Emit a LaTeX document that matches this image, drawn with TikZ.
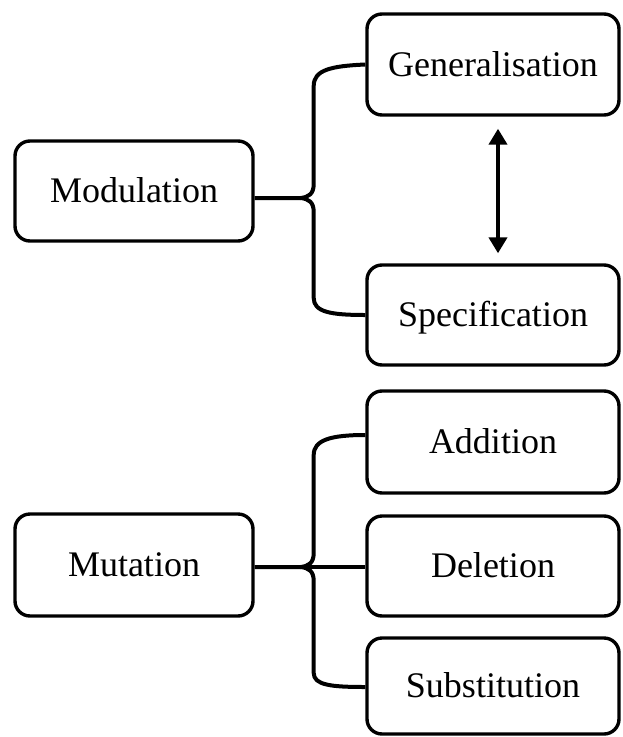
\documentclass[tikz,border=0pt]{standalone}
\usepackage{fontspec}
\setmainfont{Liberation Serif}
\usetikzlibrary{arrows.meta,calc}

\begin{document}
\begin{tikzpicture}[x=1pt,y=-1pt,
  termbox/.style={draw=black, line width=3.4pt, rounded corners=15pt,
    text height=23pt, text depth=0pt, inner sep=0pt,
    font=\fontsize{36}{40}\selectfont},
  leftbox/.style={termbox, minimum width=238pt},
  rightbox/.style={termbox, minimum width=252pt},
  brace/.style={line width=4pt, line join=round},
  twoway/.style={line width=4.5pt, {Triangle[length=16pt,width=18pt]}-{Triangle[length=16pt,width=18pt]}}]

\useasboundingbox (0,0) rectangle (622,737);

% Modulation group
\node[leftbox, minimum height=100pt]  (mod)  at (134,191) {Modulation};
\node[rightbox, minimum height=101pt] (gen)  at (493,64.5) {Generalisation};
\node[rightbox, minimum height=100pt] (spec) at (493,315) {Specification};

% Mutation group
\node[leftbox, minimum height=102pt]  (mut) at (134,565) {Mutation};
\node[rightbox, minimum height=102pt] (add) at (493,442) {Addition};
\node[rightbox, minimum height=100pt] (del) at (493,566) {Deletion};
\node[rightbox, minimum height=96pt]  (sub) at (493,686) {Substitution};

% Curly brace joining Modulation to its two branches
\coordinate (modout) at ([yshift=-7pt]mod.east);
\coordinate (modcusp) at ($(modout)+(46,0)$);
\draw[brace] (modout) -- (modcusp)
  .. controls ($(modcusp)+(8,-1)$) and ($(modcusp)+(13,-4)$) .. ($(modcusp)+(13,-14)$)
  -- ($(modcusp)+(13,-112)$)
  .. controls ($(modcusp)+(13,-128)$) and ($(modcusp)+(30,-132)$) .. (gen.west);
\draw[brace] (modcusp)
  .. controls ($(modcusp)+(8,1)$) and ($(modcusp)+(13,4)$) .. ($(modcusp)+(13,14)$)
  -- ($(modcusp)+(13,100)$)
  .. controls ($(modcusp)+(13,114)$) and ($(modcusp)+(30,117)$) .. (spec.west);

% Generalisation <-> Specification
\draw[twoway, shorten <=12pt, shorten >=10pt]
  ([xshift=5pt]gen.south) -- ([xshift=5pt]spec.north);

% Curly brace joining Mutation to its three branches
\coordinate (mutout) at ([yshift=-2pt]mut.east);
\coordinate (mutcusp) at ($(mutout)+(46,0)$);
\draw[brace] (mutout) -- (mutcusp)
  .. controls ($(mutcusp)+(8,-1)$) and ($(mutcusp)+(13,-4)$) .. ($(mutcusp)+(13,-14)$)
  -- ($(mutcusp)+(13,-112)$)
  .. controls ($(mutcusp)+(13,-127)$) and ($(mutcusp)+(30,-132)$) .. ([yshift=7pt]add.west);
\draw[brace] (mutcusp)
  .. controls ($(mutcusp)+(8,1)$) and ($(mutcusp)+(13,4)$) .. ($(mutcusp)+(13,14)$)
  -- ($(mutcusp)+(13,106)$)
  .. controls ($(mutcusp)+(13,118)$) and ($(mutcusp)+(30,120)$) .. ([yshift=-1pt]sub.west);
\draw[brace] (mutcusp) -- (mutcusp -| del.west);

\end{tikzpicture}
\end{document}
